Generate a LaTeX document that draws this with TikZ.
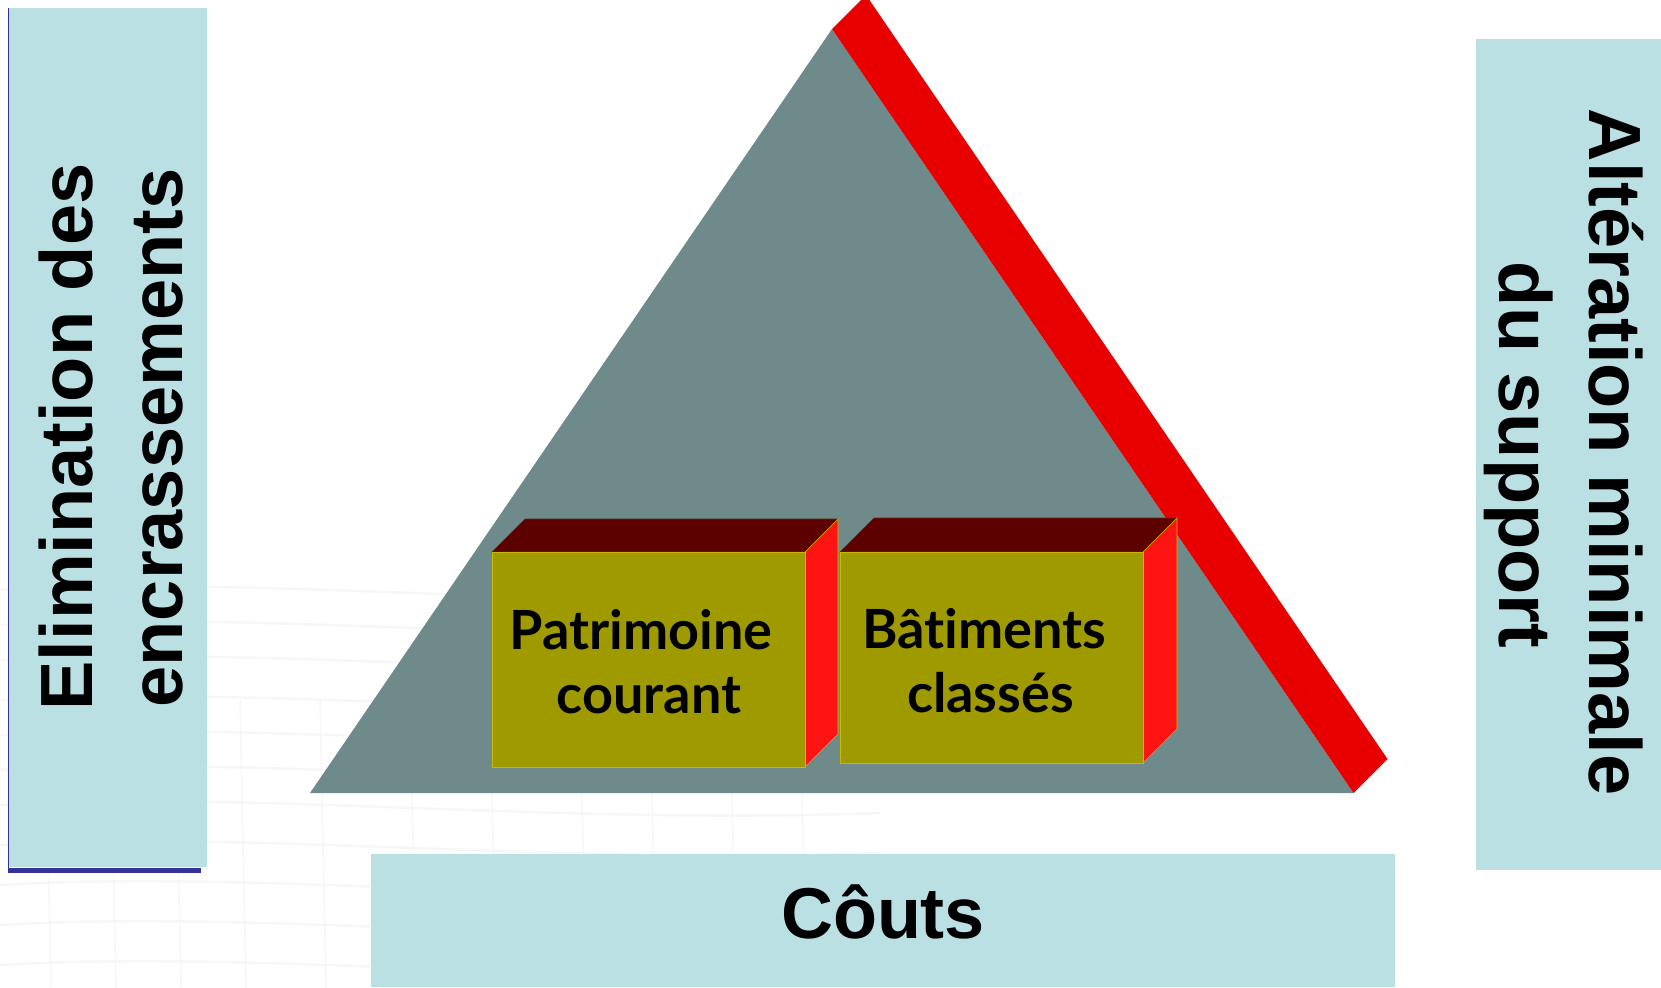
\documentclass[tikz,border=0pt]{standalone}
\usepackage{fontspec}
\usetikzlibrary{calc}
\setmainfont{Liberation Sans}
\newfontfamily\boxfont[Ligatures=NoCommon]{Lato}
\definecolor{panel}{RGB}{187,224,227}
\definecolor{trigray}{RGB}{111,138,138}
\definecolor{bandred}{RGB}{232,0,0}
\definecolor{frontol}{RGB}{158,154,0}
\definecolor{topdark}{RGB}{92,0,0}
\definecolor{siderd}{RGB}{255,20,20}
\definecolor{edgeyl}{RGB}{196,186,0}
\definecolor{navyline}{RGB}{51,51,153}
\definecolor{texgray}{RGB}{240,240,240}
\tikzset{
  paneltext/.style={inner sep=0pt, font=\bfseries\fontsize{74}{90}\selectfont},
  boxtext/.style={inner sep=0pt, font=\boxfont\bfseries\fontsize{54}{64}\selectfont},
  frontface/.style={fill=frontol, draw=edgeyl, line width=1pt},
  topface/.style={fill=topdark, draw=topdark!80!edgeyl, line width=0.6pt},
  sideface/.style={fill=siderd, draw=edgeyl, line width=0.6pt},
  texline/.style={draw=texgray, line width=2.5pt, opacity=0.5}
}
\begin{document}
\begin{tikzpicture}[x=1pt,y=-1pt]
\useasboundingbox (0,0) rectangle (1661,987);
\clip (0,0) rectangle (1661,987);
% faint background texture (bottom left)
\foreach \yy in {590,625,660,700,735,770,805,845,885,925,965}{
  \draw[texline] (0,\yy) .. controls (250,\yy-15) and (550,\yy+20) .. (880,\yy+8);
}
\foreach \xx in {45,110,175,240,320,410,490,580,650,730,800}{
  \draw[texline, line width=1.5pt] (\xx,700) -- (\xx+6,987);
}
% left panel
\fill[panel] (8,8) rectangle (207,867);
\draw[navyline, line width=1pt] (8.5,8) -- (8.5,870);
\fill[navyline] (8,867.5) rectangle (201,872.5);
\node[paneltext, rotate=90, anchor=base] (elim1) at (92.5,437) {Elimination des};
\node[paneltext, rotate=90, anchor=base] (elim2) at (182.5,438) {encrassements};
% right panel
\fill[panel] (1476,39) rectangle (1661,870);
\node[paneltext, rotate=-90, anchor=base] (alt1) at (1589.5,452) {Altération minimale};
\node[paneltext, rotate=-90, anchor=base] (alt2) at (1499,455) {du support};
% bottom panel
\fill[panel] (371,854) rectangle (1395,987);
\node[inner sep=0pt, anchor=base, font=\bfseries\fontsize{72}{80}\selectfont] (couts) at (883,938) {Côuts};
% triangle
\coordinate (apex) at (832,29);
\coordinate (bl) at (310,793);
\coordinate (br) at (1353.5,793);
\fill[trigray] (apex) -- (br) -- (bl) -- cycle;
% red band along the right side
\fill[bandred] (apex) -- (br) -- ++(34,-34) -- ($(apex)+(34,-34)$) -- cycle;
% box 1
\fill[topface] (492,552) -- (525,519) -- (838,519) -- (805,552) -- cycle;
\fill[sideface] (805,552) -- (838,519) -- (838,734) -- (805,767) -- cycle;
\filldraw[frontface] (492,552) rectangle (805,767);
\node[boxtext, anchor=base] (pat1) at (641,649) {Patrimoine};
\node[boxtext, anchor=base] (pat2) at (649,713) {courant};
% box 2
\fill[topface] (840,552) -- (874,518) -- (1177,518) -- (1143,552) -- cycle;
\fill[sideface] (1143,552) -- (1177,518) -- (1177,729) -- (1143,763) -- cycle;
\filldraw[frontface] (840,552) rectangle (1143,763);
\node[boxtext, anchor=base] (bat1) at (984.5,648) {Bât\kern0pt iments};
\node[boxtext, anchor=base] (bat2) at (990.5,712) {classés};
\end{tikzpicture}
\end{document}
